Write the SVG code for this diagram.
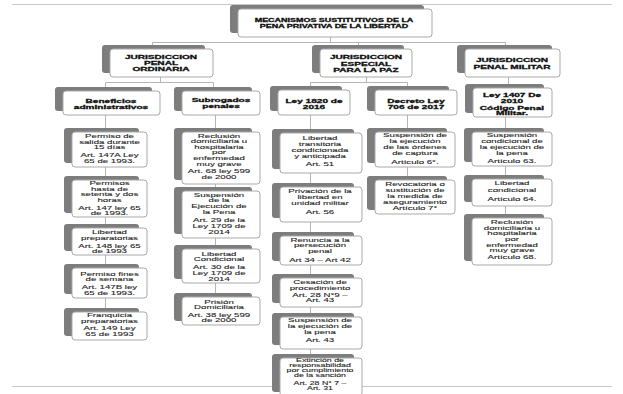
<svg xmlns="http://www.w3.org/2000/svg" width="623" height="394" viewBox="0 0 623 394">
<style>
.sh{fill:#7d7d7d}
.bx{fill:#fff;stroke:#a9a9a9;stroke-width:1}
.c{stroke:#b5b5b5;stroke-width:1;fill:none}
.pg{stroke:#c8c8c8;stroke-width:1}
.t{font-family:"Liberation Sans",Arial,sans-serif;font-size:6.8px;fill:#1e1e1e;text-anchor:middle;stroke:#1e1e1e;stroke-width:0.12}
.h{font-weight:bold;font-size:7.2px;fill:#0d0d0d;stroke:#0d0d0d;stroke-width:0.35}
.ti{font-weight:bold;font-size:6.5px;fill:#0d0d0d;stroke:#0d0d0d;stroke-width:0.35}
</style>
<rect width="623" height="394" fill="#fff"/>
<line class="pg" x1="12" y1="4.5" x2="612" y2="4.5"/>
<line class="pg" x1="12" y1="386.5" x2="612" y2="386.5"/>
<g id="connectors">
<path class="c" d="M330.5,37V42.5M152.5,42.5H505.5M152.5,42.5V49M358.5,42.5V49M505.5,42.5V49"/>
<path class="c" d="M160.5,77V82.5M105.5,82.5H213.5M105.5,82.5V91M213.5,82.5V91"/>
<path class="c" d="M366.5,77V82.5M310.5,82.5H407.5M310.5,82.5V90M407.5,82.5V90"/>
<path class="c" d="M508.5,77V88"/>
<path class="c" d="M105.5,115V312M215.5,115V297M310.5,115V358M407.5,115V180M505.5,117V218"/>
</g>
<g id="n-title"><rect class="sh" x="230" y="5" width="194" height="28" rx="3"/><rect class="bx" x="238" y="9" width="194" height="28" rx="3"/>
<text class="t ti" transform="matrix(1.38 0 0 0.75 334 0)"><tspan x="0" y="29.6">MECANISMOS SUSTITUTIVOS DE LA</tspan><tspan x="0" y="37.6">PENA PRIVATIVA DE LA LIBERTAD</tspan></text></g>
<g id="n-ord"><rect class="sh" x="102" y="45" width="103" height="28" rx="3"/><rect class="bx" x="110" y="49" width="103" height="28" rx="3"/>
<text class="t h" transform="matrix(1.4 0 0 0.75 161 0)"><tspan x="0" y="78.93">JURISDICCION</tspan><tspan x="0" y="86.93">PENAL</tspan><tspan x="0" y="94.93">ORDINARIA</tspan></text></g>
<g id="n-paz"><rect class="sh" x="312" y="45" width="92" height="28" rx="3"/><rect class="bx" x="320" y="49" width="92" height="28" rx="3"/>
<text class="t h" transform="matrix(1.4 0 0 0.75 366 0)"><tspan x="0" y="78.93">JURISDICCION</tspan><tspan x="0" y="87.6">ESPECIAL</tspan><tspan x="0" y="96.27">PARA LA PAZ</tspan></text></g>
<g id="n-mil"><rect class="sh" x="457" y="45" width="95" height="28" rx="3"/><rect class="bx" x="465" y="49" width="95" height="28" rx="3"/>
<text class="t h" transform="matrix(1.4 0 0 0.75 512 0)"><tspan x="0" y="82.93">JURISDICCION</tspan><tspan x="0" y="91.6">PENAL MILITAR</tspan></text></g>
<g id="n-ben"><rect class="sh" x="55" y="87" width="97" height="24" rx="3"/><rect class="bx" x="63" y="91" width="97" height="24" rx="3"/>
<text class="t h" transform="matrix(1.4 0 0 0.75 111 0)"><tspan x="0" y="137.07">Beneficios</tspan><tspan x="0" y="145.07">administrativos</tspan></text></g>
<g id="n-sub"><rect class="sh" x="174" y="87" width="78" height="24" rx="3"/><rect class="bx" x="182" y="91" width="78" height="24" rx="3"/>
<text class="t h" transform="matrix(1.4 0 0 0.75 221 0)"><tspan x="0" y="136.27">Subrogados</tspan><tspan x="0" y="144.27">penales</tspan></text></g>
<g id="n-1820"><rect class="sh" x="270" y="86" width="72" height="25" rx="3"/><rect class="bx" x="278" y="90" width="72" height="25" rx="3"/>
<text class="t h" transform="matrix(1.4 0 0 0.75 314 0)"><tspan x="0" y="138">Ley 1820 de</tspan><tspan x="0" y="145.6">2016</tspan></text></g>
<g id="n-706"><rect class="sh" x="367" y="86" width="82" height="25" rx="3"/><rect class="bx" x="375" y="90" width="82" height="25" rx="3"/>
<text class="t h" transform="matrix(1.4 0 0 0.75 416 0)"><tspan x="0" y="137.6">Decreto Ley</tspan><tspan x="0" y="145.6">706 de 2017</tspan></text></g>
<g id="n-1407"><rect class="sh" x="465" y="84" width="79" height="29" rx="3"/><rect class="bx" x="473" y="88" width="79" height="29" rx="3"/>
<text class="t h" transform="matrix(1.4 0 0 0.75 512 0)"><tspan x="0" y="129.6">Ley 1407 De</tspan><tspan x="0" y="136.67">2010</tspan><tspan x="0" y="146.93">Código Penal</tspan><tspan x="0" y="153.6">Militar.</tspan></text></g>

<g id="b1"><rect class="sh" x="64" y="128" width="75" height="35" rx="3"/><rect class="bx" x="72" y="132" width="75" height="35" rx="3"/>
<text class="t" transform="matrix(1.42 0 0 0.75 109.5 0)"><tspan x="0" y="184.27">Permiso de</tspan><tspan x="0" y="191.6">salida durante</tspan><tspan x="0" y="198.93">15 días</tspan><tspan x="0" y="209.6">Art. 147A Ley</tspan><tspan x="0" y="217.33">65 de 1993.</tspan></text></g>
<g id="b2"><rect class="sh" x="64" y="176" width="75" height="37" rx="3"/><rect class="bx" x="72" y="180" width="75" height="37" rx="3"/>
<text class="t" transform="matrix(1.42 0 0 0.75 109.5 0)"><tspan x="0" y="247.33">Permisos</tspan><tspan x="0" y="254.67">hasta de</tspan><tspan x="0" y="262">setenta y dos</tspan><tspan x="0" y="269.33">horas</tspan><tspan x="0" y="280">Art. 147 ley 65</tspan><tspan x="0" y="287.07">de 1993.</tspan></text></g>
<g id="b3"><rect class="sh" x="64" y="224" width="75" height="27" rx="3"/><rect class="bx" x="72" y="228" width="75" height="27" rx="3"/>
<text class="t" transform="matrix(1.42 0 0 0.75 109.5 0)"><tspan x="0" y="312.27">Libertad</tspan><tspan x="0" y="320">preparatorias</tspan><tspan x="0" y="330.67">Art. 148 ley 65</tspan><tspan x="0" y="337.73">de 1993</tspan></text></g>
<g id="b4"><rect class="sh" x="64" y="264" width="75" height="30" rx="3"/><rect class="bx" x="72" y="268" width="75" height="30" rx="3"/>
<text class="t" transform="matrix(1.42 0 0 0.75 109.5 0)"><tspan x="0" y="368">Permiso fines</tspan><tspan x="0" y="375.33">de semana</tspan><tspan x="0" y="385.6">Art. 147B ley</tspan><tspan x="0" y="393.33">65 de 1993.</tspan></text></g>
<g id="b5"><rect class="sh" x="64" y="308" width="75" height="28" rx="3"/><rect class="bx" x="72" y="312" width="75" height="28" rx="3"/>
<text class="t" transform="matrix(1.42 0 0 0.75 109.5 0)"><tspan x="0" y="423.33">Franquicia</tspan><tspan x="0" y="430.67">preparatorias</tspan><tspan x="0" y="440.67">Art. 149 Ley</tspan><tspan x="0" y="448">65 de 1993</tspan></text></g>

<g id="s1"><rect class="sh" x="174" y="128" width="78" height="52" rx="3"/><rect class="bx" x="182" y="132" width="78" height="52" rx="3"/>
<text class="t" transform="matrix(1.42 0 0 0.75 219 0)"><tspan x="0" y="184">Reclusión</tspan><tspan x="0" y="191.33">domiciliaria u</tspan><tspan x="0" y="198.67">hospitalaria</tspan><tspan x="0" y="206">por</tspan><tspan x="0" y="213.33">enfermedad</tspan><tspan x="0" y="220.67">muy grave</tspan><tspan x="0" y="231.33">Art. 68 ley 599</tspan><tspan x="0" y="238.67">de 2000</tspan></text></g>
<g id="s2"><rect class="sh" x="174" y="187" width="78" height="47" rx="3"/><rect class="bx" x="182" y="191" width="78" height="47" rx="3"/>
<text class="t" transform="matrix(1.42 0 0 0.75 219 0)"><tspan x="0" y="262.67">Suspensión</tspan><tspan x="0" y="270">de la</tspan><tspan x="0" y="278">Ejecución de</tspan><tspan x="0" y="285.6">la Pena</tspan><tspan x="0" y="296.67">Art. 29 de la</tspan><tspan x="0" y="304.67">Ley 1709 de</tspan><tspan x="0" y="312.27">2014</tspan></text></g>
<g id="s3"><rect class="sh" x="174" y="245" width="78" height="34" rx="3"/><rect class="bx" x="182" y="249" width="78" height="34" rx="3"/>
<text class="t" transform="matrix(1.42 0 0 0.75 219 0)"><tspan x="0" y="340.67">Libertad</tspan><tspan x="0" y="348.4">Condicional</tspan><tspan x="0" y="358.93">Art. 30 de la</tspan><tspan x="0" y="366.93">Ley 1709 de</tspan><tspan x="0" y="374.67">2014</tspan></text></g>
<g id="s4"><rect class="sh" x="174" y="293" width="78" height="28" rx="3"/><rect class="bx" x="182" y="297" width="78" height="28" rx="3"/>
<text class="t" transform="matrix(1.42 0 0 0.75 219 0)"><tspan x="0" y="404.67">Prisión</tspan><tspan x="0" y="412.27">Domiciliaria</tspan><tspan x="0" y="422.93">Art. 38 ley 599</tspan><tspan x="0" y="430">de 2000</tspan></text></g>

<g id="l1"><rect class="sh" x="272" y="129" width="82" height="40" rx="3"/><rect class="bx" x="280" y="133" width="82" height="40" rx="3"/>
<text class="t" transform="matrix(1.42 0 0 0.75 320 0)"><tspan x="0" y="186.93">Libertad</tspan><tspan x="0" y="194.93">transitoria</tspan><tspan x="0" y="202.93">condicionada</tspan><tspan x="0" y="210.67">y anticipada</tspan><tspan x="0" y="222">Art. 51</tspan></text></g>
<g id="l2"><rect class="sh" x="272" y="183" width="82" height="35" rx="3"/><rect class="bx" x="280" y="187" width="82" height="35" rx="3"/>
<text class="t" transform="matrix(1.42 0 0 0.75 320 0)"><tspan x="0" y="258">Privación de la</tspan><tspan x="0" y="265.73">libertad en</tspan><tspan x="0" y="273.6">unidad militar</tspan><tspan x="0" y="285.6">Art. 56</tspan></text></g>
<g id="l3"><rect class="sh" x="272" y="232" width="82" height="29" rx="3"/><rect class="bx" x="280" y="236" width="82" height="29" rx="3"/>
<text class="t" transform="matrix(1.42 0 0 0.75 320 0)"><tspan x="0" y="322.4">Renuncia a la</tspan><tspan x="0" y="330">persecución</tspan><tspan x="0" y="337.6">penal</tspan><tspan x="0" y="349.73">Art 34 – Art 42</tspan></text></g>
<g id="l4"><rect class="sh" x="272" y="274" width="82" height="29" rx="3"/><rect class="bx" x="280" y="278" width="82" height="29" rx="3"/>
<text class="t" transform="matrix(1.42 0 0 0.75 320 0)"><tspan x="0" y="378.67">Cesación de</tspan><tspan x="0" y="386.27">procedimiento</tspan><tspan x="0" y="396">Art. 28 N°9 –</tspan><tspan x="0" y="403.33">Art. 43</tspan></text></g>
<g id="l5"><rect class="sh" x="272" y="313" width="82" height="32" rx="3"/><rect class="bx" x="280" y="317" width="82" height="32" rx="3"/>
<text class="t" transform="matrix(1.42 0 0 0.75 320 0)"><tspan x="0" y="430">Suspensión de</tspan><tspan x="0" y="437.73">la ejecución de</tspan><tspan x="0" y="445.33">la pena</tspan><tspan x="0" y="456.4">Art. 43</tspan></text></g>
<g id="l6"><rect class="sh" x="272" y="354" width="82" height="38" rx="3"/><rect class="bx" x="280" y="358" width="82" height="38" rx="3"/>
<text class="t" style="font-size:6.2px" transform="matrix(1.42 0 0 0.75 320 0)"><tspan x="0" y="483.07">Extinción de</tspan><tspan x="0" y="489.73">responsabilidad</tspan><tspan x="0" y="496.4">por cumplimiento</tspan><tspan x="0" y="503.07">de la sanción</tspan><tspan x="0" y="513.73">Art. 28 N° 7 –</tspan><tspan x="0" y="520.4">Art. 31</tspan></text></g>

<g id="d1"><rect class="sh" x="367" y="128" width="80" height="35" rx="3"/><rect class="bx" x="375" y="132" width="80" height="35" rx="3"/>
<text class="t" transform="matrix(1.42 0 0 0.75 415 0)"><tspan x="0" y="183.33">Suspensión de</tspan><tspan x="0" y="191.33">la ejecución</tspan><tspan x="0" y="199.33">de las órdenes</tspan><tspan x="0" y="206.67">de captura</tspan><tspan x="0" y="218.67">Artículo 6°.</tspan></text></g>
<g id="d2"><rect class="sh" x="367" y="176" width="80" height="34" rx="3"/><rect class="bx" x="375" y="180" width="80" height="34" rx="3"/>
<text class="t" transform="matrix(1.42 0 0 0.75 415 0)"><tspan x="0" y="248.4">Revocatoria o</tspan><tspan x="0" y="256.27">sustitución de</tspan><tspan x="0" y="264.27">la medida de</tspan><tspan x="0" y="272">aseguramiento</tspan><tspan x="0" y="280.67">Artículo 7°</tspan></text></g>

<g id="m1"><rect class="sh" x="464" y="128" width="80" height="34" rx="3"/><rect class="bx" x="472" y="132" width="80" height="34" rx="3"/>
<text class="t" transform="matrix(1.42 0 0 0.75 512 0)"><tspan x="0" y="183.33">Suspensión</tspan><tspan x="0" y="191.33">condicional de</tspan><tspan x="0" y="199.07">la ejecución de</tspan><tspan x="0" y="206.67">la pena</tspan><tspan x="0" y="217.73">Artículo 63.</tspan></text></g>
<g id="m2"><rect class="sh" x="464" y="175" width="80" height="27" rx="3"/><rect class="bx" x="472" y="179" width="80" height="27" rx="3"/>
<text class="t" transform="matrix(1.42 0 0 0.75 512 0)"><tspan x="0" y="247.07">Libertad</tspan><tspan x="0" y="256">condicional</tspan><tspan x="0" y="268.27">Artículo 64.</tspan></text></g>
<g id="m3"><rect class="sh" x="464" y="214" width="80" height="47" rx="3"/><rect class="bx" x="472" y="218" width="80" height="47" rx="3"/>
<text class="t" transform="matrix(1.42 0 0 0.75 512 0)"><tspan x="0" y="298.93">Reclusión</tspan><tspan x="0" y="306.4">domiciliaria u</tspan><tspan x="0" y="313.87">hospitalaria</tspan><tspan x="0" y="321.33">por</tspan><tspan x="0" y="328.8">enfermedad</tspan><tspan x="0" y="336.27">muy grave</tspan><tspan x="0" y="346">Artículo 68.</tspan></text></g>
</svg>
